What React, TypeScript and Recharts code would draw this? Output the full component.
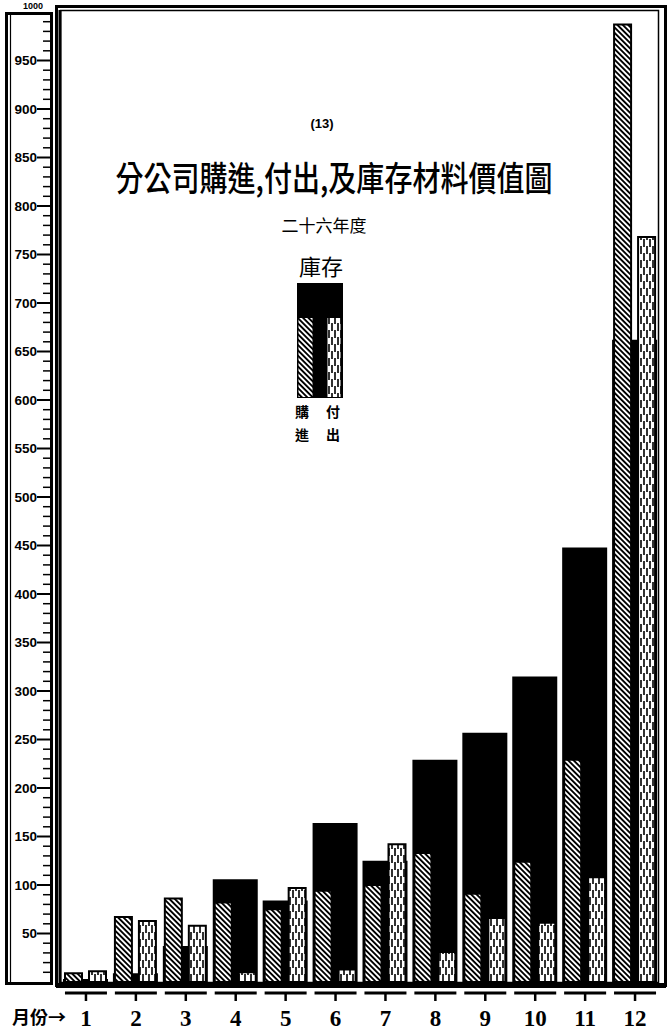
import { BarChart, Bar, XAxis, YAxis } from 'recharts'

// 月份
const months = ['1', '2', '3', '4', '5', '6', '7', '8', '9', '10', '11', '12']
// 購進 (hatched)
const purchases = [9, 67, 86, 82, 75, 94, 100, 133, 91, 124, 229, 987]
// 付出 (dashed)
const issued = [11, 63, 58, 10, 97, 13, 142, 31, 66, 61, 108, 768]
// 庫存 (solid black)
const stock = [3, 9, 37, 106, 84, 164, 125, 229, 257, 315, 448, 662]

const yTicks = Array.from({ length: 101 }, (_, i) => i * 10)

const data = months.map((m, i) => ({
  month: m,
  purchase: purchases[i],
  issued: issued[i],
  stock: stock[i],
}))

const CJK = '"Noto Sans CJK TC", "Noto Sans CJK SC", sans-serif'

function YTick(props: any) {
  const { y, payload } = props
  const v = payload.value
  if (v === 0 || v === 1000) return <g />
  const major = v % 50 === 0
  return (
    <g>
      <line x1={major ? 37 : 43} x2={51} y1={y} y2={y} stroke="#000" strokeWidth={major ? 2 : 1.5} />
      {major && (
        <text x={37} y={y} dy={4.5} textAnchor="end" fontFamily="Liberation Sans, Arial, sans-serif"
          fontWeight="bold" fontSize={13.5} fill="#000">
          {v}
        </text>
      )}
    </g>
  )
}

function XTick(props: any) {
  const { x, payload } = props
  return (
    <g>
      <line x1={x - 21} x2={x + 21} y1={993} y2={993} stroke="#000" strokeWidth={3} />
      <line x1={x} x2={x} y1={993} y2={1001} stroke="#000" strokeWidth={2.5} />
      <text x={x} y={1026} textAnchor="middle" fontFamily="Liberation Serif, serif" fontWeight="bold"
        fontSize={23} fill="#000">
        {payload.value}
      </text>
    </g>
  )
}

function Patterns() {
  return (
    <defs>
      <pattern id="hatch" width={3.8} height={3.8} patternUnits="userSpaceOnUse" patternTransform="rotate(-45)">
        <rect width={3.8} height={3.8} fill="#fff" />
        <rect width={1.9} height={3.8} fill="#000" />
      </pattern>
      <pattern id="dash" width={6} height={14} patternUnits="userSpaceOnUse">
        <rect width={6} height={14} fill="#fff" />
        <rect x={1.2} y={1} width={1.6} height={8} fill="#000" />
        <rect x={4.2} y={8} width={1.6} height={8} fill="#000" />
        <rect x={4.2} y={-6} width={1.6} height={8} fill="#000" />
      </pattern>
    </defs>
  )
}

export default function App() {
  return (
    <div style={{ position: 'absolute', left: 0, top: 0, width: 672, height: 1034, background: '#fff' }}>
      <BarChart width={672} height={1034} data={data} barGap={7}
        margin={{ top: 12, right: 12, bottom: 0, left: 0 }}>
        <Patterns />
        <XAxis xAxisId="stock" dataKey="month" hide />
        <XAxis xAxisId="flow" dataKey="month" height={52} axisLine={false} tickLine={false}
          interval={0} tick={<XTick />} />
        <YAxis domain={[0, 1000]} ticks={yTicks} interval={0} width={61} axisLine={false}
          tickLine={false} tick={<YTick />} />
        <Bar xAxisId="stock" dataKey="stock" name="庫存" barSize={45} fill="#000" isAnimationActive={false} />
        <Bar xAxisId="flow" dataKey="purchase" name="購進" barSize={17} fill="url(#hatch)" stroke="#000"
          strokeWidth={2} isAnimationActive={false} />
        <Bar xAxisId="flow" dataKey="issued" name="付出" barSize={17} fill="url(#dash)" stroke="#000"
          strokeWidth={2} isAnimationActive={false} />
      </BarChart>

      <svg width={672} height={1034} style={{ position: 'absolute', left: 0, top: 0, pointerEvents: 'none' }}>
        {/* left scale panel */}
        <rect x={6.5} y={13.5} width={45} height={970} fill="none" stroke="#000" strokeWidth={3} />
        <line x1={10.5} x2={10.5} y1={15} y2={982} stroke="#000" strokeWidth={1.2} />
        <text x={33} y={9} textAnchor="middle" fontFamily="Liberation Sans, Arial, sans-serif"
          fontWeight="bold" fontSize={9}>1000</text>

        {/* main frame */}
        <rect x={56.5} y={6.5} width={609} height={979} fill="none" stroke="#000" strokeWidth={3} />
        <rect x={60.5} y={10.5} width={598} height={972} fill="none" stroke="#000" strokeWidth={1.5} />
        <line x1={60} x2={60} y1={10} y2={984} stroke="#000" strokeWidth={3} />
        <line x1={56} x2={666} y1={985.5} y2={985.5} stroke="#000" strokeWidth={5} />

        {/* titles */}
        <text x={322} y={128} textAnchor="middle" fontFamily="Liberation Sans, Arial, sans-serif"
          fontWeight="bold" fontSize={13}>(13)</text>
        <text x={334} y={191} textAnchor="middle" fontFamily={CJK} fontWeight={500} fontSize={34}
          textLength={437} lengthAdjust="spacingAndGlyphs">分公司購進,付出,及庫存材料價值圖</text>
        <text x={324} y={232} textAnchor="middle" fontFamily={CJK} fontSize={17}>二十六年度</text>

        {/* legend */}
        <text x={321} y={275} textAnchor="middle" fontFamily={CJK} fontSize={22}>庫存</text>
        <rect x={297} y={283} width={46} height={115} fill="#000" />
        <rect x={298.5} y={318} width={14} height={79} fill="url(#hatch)" />
        <rect x={327.5} y={318} width={13} height={79} fill="url(#dash)" />
        <text x={302} y={417} textAnchor="middle" fontFamily={CJK} fontWeight="bold" fontSize={14}>購</text>
        <text x={302} y={440} textAnchor="middle" fontFamily={CJK} fontWeight="bold" fontSize={14}>進</text>
        <text x={333} y={417} textAnchor="middle" fontFamily={CJK} fontWeight="bold" fontSize={14}>付</text>
        <text x={333} y={440} textAnchor="middle" fontFamily={CJK} fontWeight="bold" fontSize={14}>出</text>

        {/* month caption */}
        <text x={12} y={1024} fontFamily={CJK} fontWeight="bold" fontSize={18}>月份→</text>
      </svg>
    </div>
  )
}
